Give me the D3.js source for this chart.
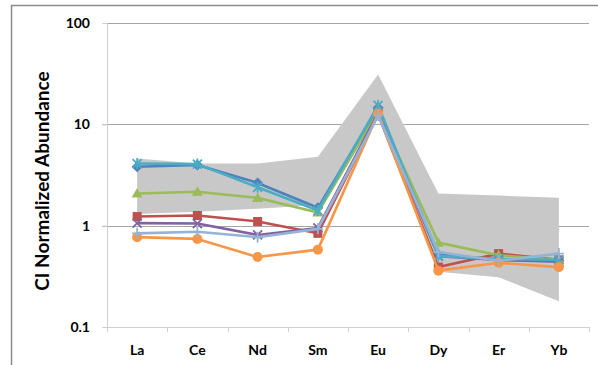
<!DOCTYPE html>
<html>
<head>
<meta charset="utf-8">
<script src="https://cdn.jsdelivr.net/npm/d3@7"></script>
<style>
  html, body { margin: 0; padding: 0; background: #fff; }
  svg { display: block; }
  text { font-family: Lato, "Open Sans", "Liberation Sans", sans-serif; font-weight: bold; fill: #000; }
</style>
</head>
<body>
<svg id="chart" width="598" height="365"></svg>
<script>
// REE elements on the x axis
const elements = ["La", "Ce", "Nd", "Sm", "Eu", "Dy", "Er", "Yb"];
// Log axis ticks
const yTicks = [0.1, 1, 10, 100];
const yTickLabels = ["0.1", "1", "10", "100"];

// Envelope of the reference population (upper / lower bounds)
const envelopeUpper = [4.6, 4.1, 4.1, 4.8, 31, 2.08, 1.98, 1.89];
const envelopeLower = [1.3, 1.37, 1.47, 1.6, 11.5, 0.35, 0.31, 0.18];

// Sample patterns (CI normalized)
const sampleA = [3.82, 3.97, 2.64, 1.50, 14.6, 0.52, 0.46, 0.45]; // blue diamond
const sampleB = [1.23, 1.26, 1.10, 0.84, 12.6, 0.39, 0.53, 0.46]; // red square
const sampleC = [2.08, 2.16, 1.88, 1.35, 13.4, 0.68, 0.51, 0.46]; // green triangle
const sampleD = [1.06, 1.05, 0.81, 0.95, 13.0, 0.50, 0.46, 0.44]; // purple x
const sampleE = [4.10, 4.05, 2.39, 1.41, 15.4, 0.50, 0.47, 0.46]; // teal star
const sampleF = [0.77, 0.74, 0.49, 0.58, 12.8, 0.36, 0.43, 0.39]; // orange circle
const sampleG = [0.84, 0.87, 0.77, 0.93, 12.2, 0.55, 0.45, 0.53]; // light blue plus

const seriesList = [
  { values: sampleA, color: "#4F81BD", marker: "diamond" },
  { values: sampleB, color: "#C0504D", marker: "square" },
  { values: sampleC, color: "#9BBB59", marker: "triangle" },
  { values: sampleD, color: "#8064A2", marker: "x" },
  { values: sampleE, color: "#4BACC6", marker: "star" },
  { values: sampleF, color: "#F79646", marker: "circle" },
  { values: sampleG, color: "#95B3D7", marker: "plus" }
];

const svg = d3.select("#chart");
const plot = { left: 107, right: 589, top: 23, bottom: 327 };

const x = d3.scaleBand().domain(elements).range([plot.left, plot.right]);
const cx = e => x(e) + x.bandwidth() / 2;
const y = d3.scaleLog().domain([0.1, 100]).range([plot.bottom, plot.top]);

// outer frame lines
svg.append("line").attr("x1", 11).attr("x2", 598).attr("y1", 5.5).attr("y2", 5.5)
  .attr("stroke", "#8c8c8c").attr("stroke-width", 1.5);
svg.append("line").attr("x1", 11.5).attr("x2", 11.5).attr("y1", 5).attr("y2", 365)
  .attr("stroke", "#8c8c8c").attr("stroke-width", 1.5);

// horizontal gridlines
svg.append("g").selectAll("line").data(yTicks.filter(t => t > 0.1)).join("line")
  .attr("x1", plot.left - 5).attr("x2", plot.right)
  .attr("y1", d => Math.round(y(d)) + 0.5).attr("y2", d => Math.round(y(d)) + 0.5)
  .attr("stroke", "#a6a6a6").attr("stroke-width", 1.2);

// envelope band
const area = d3.area()
  .x((d, i) => cx(elements[i]))
  .y0((d, i) => y(envelopeLower[i]))
  .y1((d, i) => y(envelopeUpper[i]));
svg.append("path").datum(elements).attr("d", area).attr("fill", "#c8c8c8");

// y axis
const yAxis = d3.axisLeft(y).tickValues(yTicks)
  .tickFormat((d, i) => yTickLabels[i]).tickSize(5).tickPadding(12);
const gy = svg.append("g").attr("transform", `translate(${plot.left},0)`).call(yAxis);
gy.select(".domain").attr("stroke", "#d0d0d0");
gy.selectAll(".tick line").attr("stroke", "#d0d0d0");
gy.selectAll("text").style("font-size", "14px");

// x axis
const xAxis = d3.axisBottom(x).tickSize(0).tickPadding(18);
const gx = svg.append("g").attr("transform", `translate(0,${plot.bottom})`).call(xAxis);
gx.select(".domain").attr("stroke", "#d0d0d0");
gx.selectAll("text").style("font-size", "14px");
// category boundary ticks
svg.append("g").selectAll("line")
  .data(elements.map(e => x(e)).concat([plot.right])).join("line")
  .attr("x1", d => Math.round(d) + 0.5).attr("x2", d => Math.round(d) + 0.5)
  .attr("y1", plot.bottom).attr("y2", plot.bottom + 5)
  .attr("stroke", "#d0d0d0");

// axis title
svg.append("text")
  .attr("transform", `translate(49,${(plot.top + plot.bottom) / 2 + 6}) rotate(-90)`)
  .attr("text-anchor", "middle")
  .style("font-size", "19px")
  .text("CI Normalized Abundance");

// marker shapes
const markerPath = {
  diamond: "M0,-5.5L5.5,0L0,5.5L-5.5,0Z",
  square: "M-4.5,-4.5H4.5V4.5H-4.5Z",
  triangle: "M0,-5.5L5.5,4L-5.5,4Z",
  x: "M-4.5,-4.5L4.5,4.5M-4.5,4.5L4.5,-4.5",
  star: "M-4.5,-4.5L4.5,4.5M-4.5,4.5L4.5,-4.5M0,-5.5V5.5",
  circle: null,
  plus: "M-5,0H5M0,-5.5V5.5"
};

const line = d3.line()
  .x((d, i) => cx(elements[i]))
  .y(d => y(d));

seriesList.forEach(s => {
  const g = svg.append("g");
  g.append("path").datum(s.values).attr("d", line)
    .attr("fill", "none").attr("stroke", s.color).attr("stroke-width", 2.6)
    .attr("stroke-linejoin", "round");
  const pts = g.selectAll(".pt").data(s.values).join("g")
    .attr("transform", (d, i) => `translate(${cx(elements[i])},${y(d)})`);
  if (s.marker === "circle") {
    pts.append("circle").attr("r", 5).attr("fill", s.color);
  } else if (["x", "star", "plus"].includes(s.marker)) {
    pts.append("path").attr("d", markerPath[s.marker])
      .attr("fill", "none").attr("stroke", s.color).attr("stroke-width", 1.8);
  } else {
    pts.append("path").attr("d", markerPath[s.marker]).attr("fill", s.color);
  }
});
</script>
</body>
</html>
